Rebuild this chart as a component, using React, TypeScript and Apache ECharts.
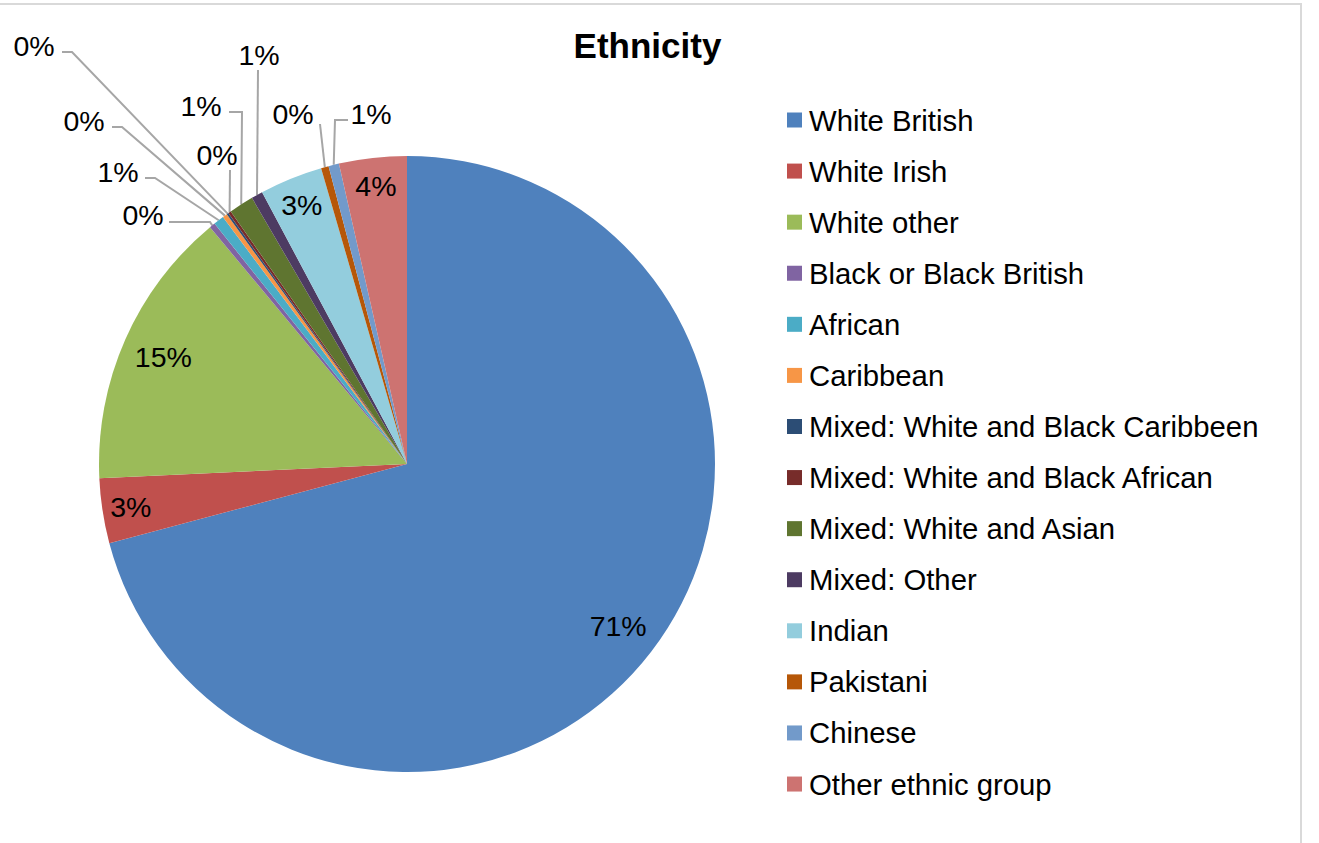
import React, { useEffect, useRef } from "react";
import * as echarts from "echarts";

const categories = [
  "White British",
  "White Irish",
  "White other",
  "Black or Black British",
  "African",
  "Caribbean",
  "Mixed: White and Black Caribbeen",
  "Mixed: White and Black African",
  "Mixed: White and Asian",
  "Mixed: Other",
  "Indian",
  "Pakistani",
  "Chinese",
  "Other ethnic group",
];

const shares = [70.9, 3.4, 14.7, 0.3, 0.55, 0.25, 0.1, 0.15, 1.3, 0.6, 3.3, 0.4, 0.55, 3.55];

const colors = [
  "#4F81BD", "#C0504D", "#9BBB59", "#8064A2", "#4BACC6", "#F79646", "#2C4D75",
  "#772C2A", "#5F7530", "#4D3B62", "#93CDDD", "#B65708", "#729ACA", "#CD7371",
];

// Which slices carry their label inside (large / medium) vs outside with a leader line
const insideLarge = [0, 2];
const insideMedium = [1, 10, 13];

// Placement of outside labels (label centre and leader-line bend points), by slice index
const outsideLabelLayout: Record<number, { x: number; y: number; line: number[][] }> = {
  3: { x: 143, y: 215, line: [[210, 222], [169, 222]] },
  4: { x: 118, y: 172, line: [[155, 178], [145, 178]] },
  5: { x: 84, y: 121, line: [[122, 127], [112, 127]] },
  6: { x: 34, y: 46, line: [[72, 52], [62, 52]] },
  7: { x: 217, y: 155, line: [[230, 170]] },
  8: { x: 201, y: 106, line: [[242, 112], [229, 112]] },
  9: { x: 259, y: 55, line: [[258, 70]] },
  11: { x: 293, y: 114, line: [[320, 124]] },
  12: { x: 371, y: 114, line: [[335, 120], [348, 120]] },
};

const FONT = "'Liberation Sans', Arial, sans-serif";
const CX = 407;
const CY = 464;
const R = 308;

export default function App() {
  const ref = useRef<HTMLDivElement>(null);

  useEffect(() => {
    if (!ref.current) return;
    const chart = echarts.init(ref.current, undefined, { renderer: "svg" });

    const fmt = (p: any) => Math.round(p.percent) + "%";

    const mainData = categories.map((name, i) => {
      const isOutside = outsideLabelLayout[i] !== undefined;
      return {
        name,
        value: shares[i],
        itemStyle: { color: colors[i] },
        label: { show: isOutside },
        labelLine: { show: isOutside },
      };
    });

    const ringData = (which: number[]) =>
      categories.map((name, i) => ({
        name,
        value: shares[i],
        label: { show: which.includes(i) },
      }));

    const ringSeries = (which: number[], r0: number) => ({
      type: "pie",
      center: [CX, CY],
      radius: [r0, R],
      startAngle: 90,
      clockwise: true,
      silent: true,
      avoidLabelOverlap: false,
      itemStyle: { color: "transparent", borderWidth: 0 },
      emphasis: { disabled: true },
      label: {
        show: true,
        position: "inside",
        formatter: fmt,
        color: "#000",
        fontFamily: FONT,
        fontSize: 28.5,
      },
      labelLine: { show: false },
      data: ringData(which),
    });

    chart.setOption({
      animation: false,
      backgroundColor: "#ffffff",
      color: colors,
      graphic: [
        {
          type: "rect",
          shape: { x: -10, y: 4, width: 1311, height: 900 },
          style: { fill: "none", stroke: "#d9d9d9", lineWidth: 2 },
          silent: true,
          z: -10,
        },
        {
          type: "text",
          x: 647.5,
          y: 45,
          style: {
            text: "Ethnicity",
            fontFamily: FONT,
            fontWeight: "bold",
            fontSize: 35,
            fill: "#000",
            align: "center",
            verticalAlign: "middle",
          },
        },
      ],
      legend: {
        orient: "vertical",
        left: 787,
        top: 105.5,
        padding: 0,
        itemWidth: 15,
        itemHeight: 15,
        itemGap: 22.08,
        icon: "rect",
        selectedMode: false,
        data: categories,
        textStyle: {
          fontFamily: FONT,
          fontSize: 29.3,
          lineHeight: 29,
          color: "#000",
          padding: [0, 0, 0, 2],
        },
      },
      series: [
        {
          type: "pie",
          center: [CX, CY],
          radius: R,
          startAngle: 90,
          clockwise: true,
          avoidLabelOverlap: false,
          emphasis: { disabled: true },
          label: {
            position: "outside",
            formatter: fmt,
            color: "#000",
            fontFamily: FONT,
            fontSize: 28.5,
          },
          labelLine: {
            length: 20,
            length2: 10,
            lineStyle: { color: "#a6a6a6", width: 2 },
          },
          labelLayout: (params: any) => {
            const L = outsideLabelLayout[params.dataIndex];
            if (!L) return {};
            const p0 =
              params.labelLinePoints && params.labelLinePoints[0]
                ? params.labelLinePoints[0]
                : [CX, CY];
            return {
              x: L.x,
              y: L.y,
              align: "center",
              verticalAlign: "middle",
              labelLinePoints: [p0, ...L.line],
            };
          },
          data: mainData,
        },
        ringSeries(insideLarge, R * 0.71),
        ringSeries(insideMedium, R * 0.795),
      ],
    });

    return () => chart.dispose();
  }, []);

  return (
    <div
      ref={ref}
      style={{ position: "fixed", left: 0, top: 0, width: 1319, height: 843 }}
    />
  );
}
